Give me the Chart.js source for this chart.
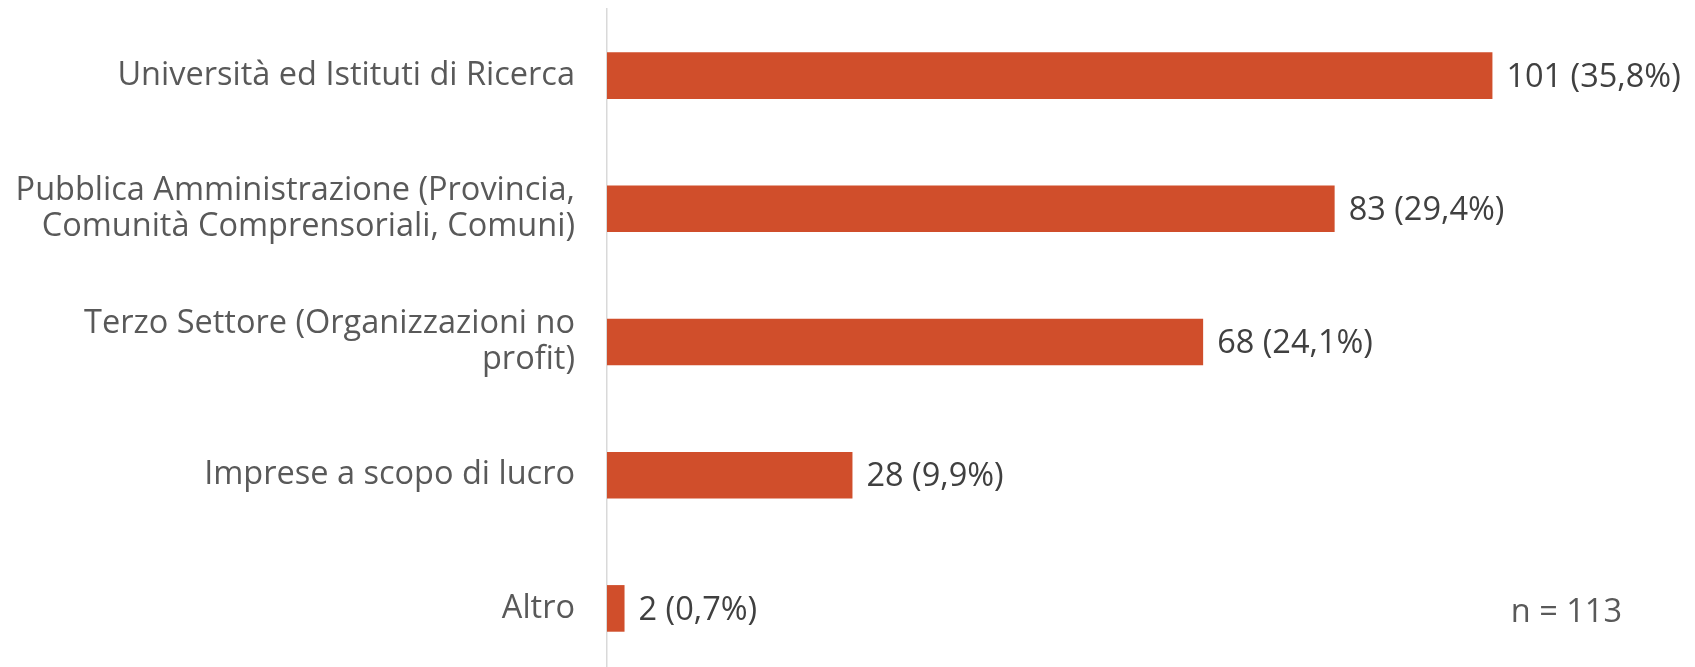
<!DOCTYPE html>
<html>
<head>
<meta charset="utf-8">
<script src="https://cdn.jsdelivr.net/npm/chart.js@4.4.0/dist/chart.umd.min.js"></script>
<style>
  html, body { margin: 0; padding: 0; background: #fff; overflow: hidden; }
  #wrap { width: 1695px; height: 676px; }
</style>
</head>
<body>
<div id="wrap"><canvas id="settoriChart" width="1695" height="676"></canvas></div>
<script>
    // dati
    const categorie = [
        'Università ed Istituti di Ricerca',
        ['Pubblica Amministrazione (Provincia,', 'Comunità Comprensoriali, Comuni)'],
        ['Terzo Settore (Organizzazioni no', 'profit)'],
        'Imprese a scopo di lucro',
        'Altro'
    ];
    const conteggi = [101, 83, 68, 28, 2];
    const percentuali = ['35,8%', '29,4%', '24,1%', '9,9%', '0,7%'];
    const totale = 'n = 113';

    const fontName = '"Open Sans", sans-serif';
    const fontSize = 32.5;

    // etichette valore a destra delle barre + nota n
    const etichettePlugin = {
        id: 'etichette',
        afterDatasetsDraw(chart) {
            const ctx = chart.ctx;
            const meta = chart.getDatasetMeta(0);
            ctx.save();
            ctx.font = fontSize + 'px ' + fontName;
            ctx.fillStyle = '#404040';
            ctx.textBaseline = 'middle';
            ctx.textAlign = 'left';
            meta.data.forEach(function(bar, i) {
                ctx.fillText(conteggi[i] + ' (' + percentuali[i] + ')', bar.x + 14, bar.y + 2);
            });
            // n = 113 in basso a destra
            const last = meta.data[meta.data.length - 1];
            ctx.fillStyle = '#595959';
            ctx.textAlign = 'right';
            ctx.fillText(totale, 1622, last.y + 4);
            ctx.restore();
        }
    };

    const data = {
        labels: categorie,
        datasets: [{
            data: conteggi,
            backgroundColor: '#D04E2B',
            borderWidth: 0,
            categoryPercentage: 1,
            barPercentage: 0.35
        }]
    };

    const config = {
        type: 'bar',
        data: data,
        options: {
            indexAxis: 'y',
            responsive: false,
            animation: false,
            layout: { padding: { top: 9, bottom: 1, left: 0, right: 36 } },
            plugins: {
                legend: { display: false },
                tooltip: { enabled: false }
            },
            scales: {
                x: {
                    display: false,
                    min: 0,
                    max: 120
                },
                y: {
                    afterFit: function(scale) {
                        scale.width = 607;
                        scale.paddingTop = 0;
                        scale.paddingBottom = 0;
                    },
                    grid: { display: false, drawTicks: true, tickLength: 32 },
                    border: { display: true, color: '#d9d9d9', width: 1.5 },
                    ticks: {
                        padding: 0,
                        color: '#595959',
                        font: { family: fontName, size: fontSize, lineHeight: 1.1 }
                    }
                }
            }
        },
        plugins: [etichettePlugin]
    };

    const myChart = new Chart(document.getElementById('settoriChart'), config);
</script>
</body>
</html>
